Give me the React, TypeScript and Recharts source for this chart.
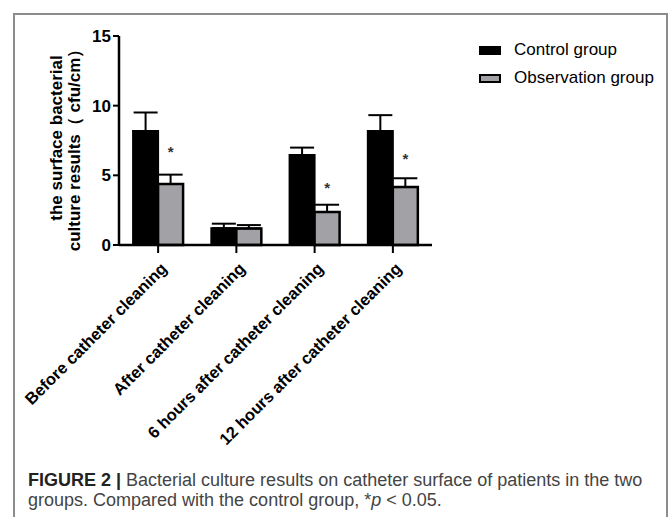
import React from 'react';
import { BarChart, Bar, XAxis, YAxis, ErrorBar, LabelList, Legend } from 'recharts';

const categories = [
  'Before catheter cleaning',
  'After catheter cleaning',
  '6 hours after catheter cleaning',
  '12 hours after catheter cleaning',
];
const seriesNames = ['Control group', 'Observation group'];
const controlMean = [8.18, 1.21, 6.46, 8.18];
const controlSd = [1.33, 0.32, 0.53, 1.14];
const observationMean = [4.38, 1.19, 2.37, 4.16];
const observationSd = [0.67, 0.24, 0.52, 0.63];
const significance = ['*', '', '*', '*'];
const starLevel = [6.8, 0, 4.25, 6.3];
const yTicks = [0, 5, 10, 15];
const yLabelLines = ['the surface bacterial', 'culture results（ cfu/cm）'];
const captionLines = [
  'Bacterial culture results on catheter surface of patients in the two',
  'groups. Compared with the control group, ',
];

const data = categories.map((name, i) => ({
  name,
  control: controlMean[i],
  controlErr: [0, controlSd[i]],
  observation: observationMean[i],
  observationErr: [0, observationSd[i]],
  star: significance[i],
}));

const FONT = '"Liberation Sans", Arial, Helvetica, sans-serif';

const XTick = (props: any) => {
  const { x, y, payload } = props;
  return (
    <g transform={`translate(${x},${y})`}>
      <text
        x={-3.5}
        y={17.3}
        textAnchor="end"
        transform="rotate(-45)"
        fontFamily={FONT}
        fontWeight="bold"
        fontSize={16.5}
        fill="#000"
      >
        {payload.value}
      </text>
    </g>
  );
};

const StarLabel = (props: any) => {
  const { x, y, width, height, value, index } = props;
  if (!value) return null;
  const v = observationMean[index];
  const pxPerUnit = height / v;
  const cy = y + height - starLevel[index] * pxPerUnit;
  return (
    <text
      x={x + width / 2}
      y={cy + 7}
      textAnchor="middle"
      fontFamily={FONT}
      fontWeight="bold"
      fontSize={15}
      fill="#333"
    >
      {value}
    </text>
  );
};

const YLabel = () => (
  <text
    transform="rotate(-90)"
    textAnchor="middle"
    fontFamily={FONT}
    fontWeight="bold"
    fontSize={17}
    fill="#000"
  >
    <tspan x={-138} y={62}>{yLabelLines[0]}</tspan>
    <tspan x={-146} y={80}>{yLabelLines[1]}</tspan>
  </text>
);

const LegendContent = () => (
  <div style={{ fontFamily: FONT, fontSize: 17, color: '#000' }}>
    {seriesNames.map((n, i) => (
      <div key={n} style={{ display: 'flex', alignItems: 'center', height: 28 }}>
        <div
          style={{
            width: i === 0 ? 22 : 18,
            height: i === 0 ? 9 : 5,
            background: i === 0 ? '#000' : '#a2a2a6',
            border: i === 0 ? 'none' : '2px solid #000',
            marginRight: 13,
          }}
        />
        <span>{n}</span>
      </div>
    ))}
  </div>
);

export default function App() {
  return (
    <div style={{ position: 'absolute', left: 0, top: 0, width: 670, height: 517, background: '#fff', overflow: 'hidden' }}>
      <div
        style={{
          position: 'absolute',
          left: 13,
          top: 13,
          width: 655,
          height: 520,
          border: '2px solid #8c8c8c',
          boxSizing: 'border-box',
        }}
      />
      <div style={{ position: 'absolute', left: 0, top: 0 }}>
        <BarChart
          width={670}
          height={460}
          data={data}
          margin={{ top: 36, right: 238, bottom: 0, left: 0 }}
          barCategoryGap="18%"
          barGap={0}
        >
          <XAxis
            dataKey="name"
            interval={0}
            tick={<XTick />}
            tickSize={8}
            height={215}
            axisLine={{ stroke: '#000', strokeWidth: 2.5 }}
            tickLine={{ stroke: '#000', strokeWidth: 2 }}
          />
          <YAxis
            domain={[0, 15]}
            ticks={yTicks}
            width={119}
            tickSize={6}
            tickMargin={2}
            axisLine={{ stroke: '#000', strokeWidth: 2.5 }}
            tickLine={{ stroke: '#000', strokeWidth: 2 }}
            tick={{ fontFamily: FONT, fontWeight: 'bold', fontSize: 17, fill: '#000' }}
            label={<YLabel />}
          />
          <Legend
            layout="vertical"
            align="center"
            verticalAlign="middle"
            content={<LegendContent />}
            wrapperStyle={{ left: 479, top: 36, width: 185 }}
          />
          <Bar dataKey="control" name={seriesNames[0]} fill="#000" stroke="#000" strokeWidth={2} isAnimationActive={false}>
            <ErrorBar dataKey="controlErr" direction="y" width={12} stroke="#000" strokeWidth={2} />
          </Bar>
          <Bar dataKey="observation" name={seriesNames[1]} fill="#a2a2a6" stroke="#000" strokeWidth={2.5} isAnimationActive={false}>
            <ErrorBar dataKey="observationErr" direction="y" width={12} stroke="#000" strokeWidth={2} />
            <LabelList dataKey="star" content={<StarLabel />} />
          </Bar>
        </BarChart>
      </div>
      <div
        style={{
          position: 'absolute',
          left: 28,
          top: 470,
          width: 640,
          fontFamily: FONT,
          fontSize: 18,
          lineHeight: '20px',
          color: '#444',
          whiteSpace: 'nowrap',
        }}
      >
        <div>
          <span style={{ fontWeight: 'bold', color: '#222' }}>FIGURE 2 | </span>
          {captionLines[0]}
        </div>
        <div>
          {captionLines[1]}*<i>p</i> &lt; 0.05.
        </div>
      </div>
    </div>
  );
}
